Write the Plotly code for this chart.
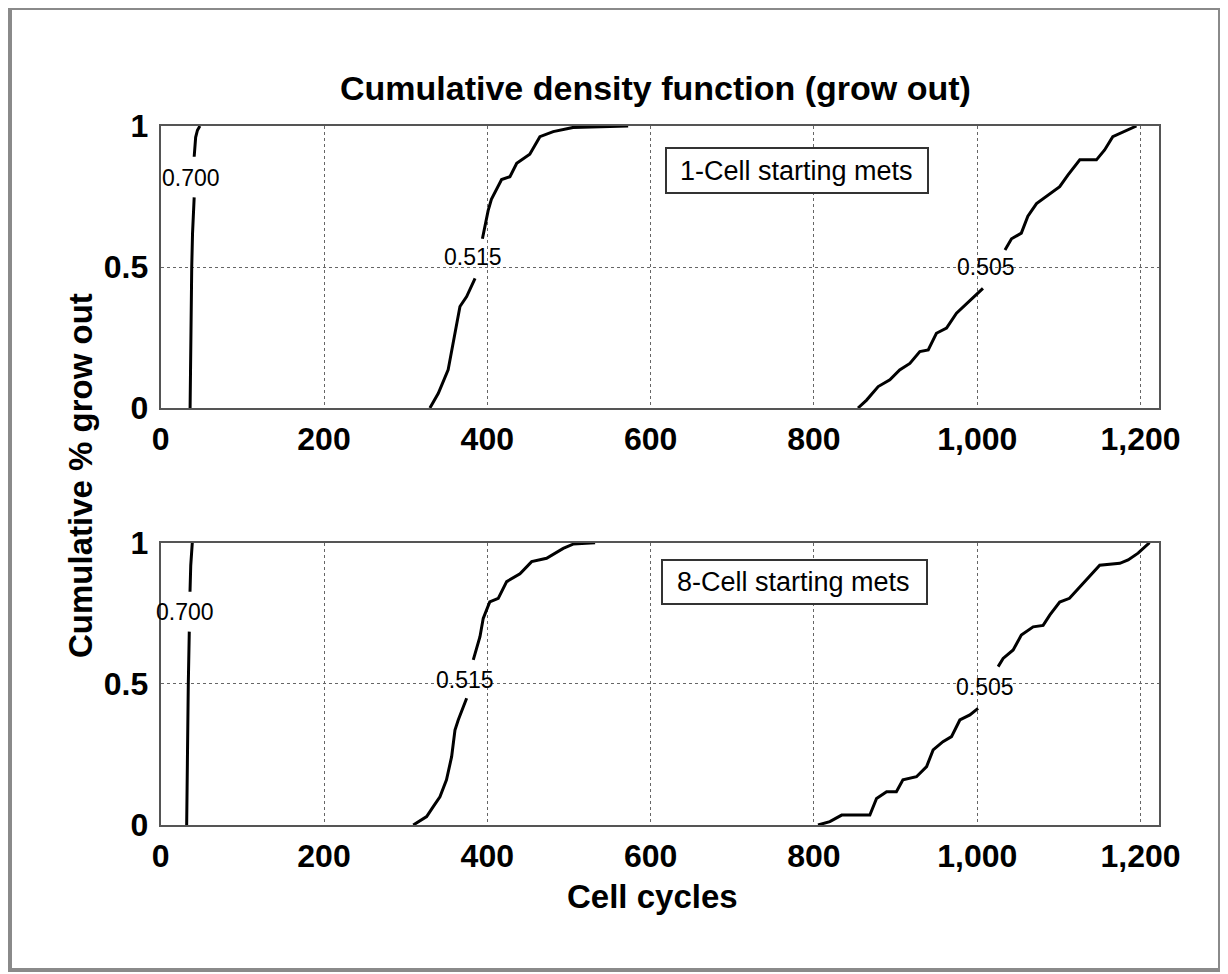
import plotly.graph_objects as go

# ---------------- data ----------------
# Top panel: 1-Cell starting mets; each curve split where its contour label sits
top_a_lo_x = [36, 36.5, 37.5, 38, 39, 41]
top_a_lo_y = [0.0, 0.2, 0.4, 0.5, 0.62, 0.747]
top_a_hi_x = [41, 41.5, 42.8, 45, 48]
top_a_hi_y = [0.891, 0.93, 0.96, 0.985, 1.0]

top_b_lo_x = [329.7, 340, 352, 358, 362, 366.5, 374.7, 385]
top_b_lo_y = [0.0, 0.052, 0.135, 0.23, 0.29, 0.36, 0.395, 0.46]
top_b_hi_x = [394, 401, 405, 417.5, 427.7, 436, 452, 464.4, 480.7, 505, 572.5]
top_b_hi_y = [0.60, 0.70, 0.74, 0.81, 0.82, 0.868, 0.90, 0.962, 0.98, 0.995, 1.0]

top_c_lo_x = [854, 864.5, 878.7, 893, 905, 917.5, 929.7, 940, 950, 962.4, 974.6, 987, 997, 1007]
top_c_lo_y = [0.0, 0.028, 0.076, 0.10, 0.135, 0.158, 0.20, 0.206, 0.265, 0.283, 0.336, 0.37, 0.395, 0.424]
top_c_hi_x = [1034, 1042, 1054, 1062, 1072.6, 1089, 1101, 1111, 1125.6, 1146, 1156, 1166, 1183, 1195]
top_c_hi_y = [0.56, 0.60, 0.62, 0.68, 0.725, 0.76, 0.785, 0.826, 0.88, 0.88, 0.915, 0.962, 0.986, 1.0]

# Bottom panel: 8-Cell starting mets
bot_a_lo_x = [31.8, 32.5, 33.8, 35]
bot_a_lo_y = [0.0, 0.25, 0.5, 0.685]
bot_a_hi_x = [35.9, 36.8, 38.7]
bot_a_hi_y = [0.826, 0.92, 1.0]

bot_b_lo_x = [309.3, 325.7, 333.8, 342, 350, 356.3, 360.4, 364.4, 374.7]
bot_b_lo_y = [0.0, 0.03, 0.065, 0.10, 0.16, 0.242, 0.336, 0.372, 0.449]
bot_b_hi_x = [382.8, 391, 395, 403, 413.4, 423.7, 440, 454.3, 472.6, 493, 505, 532]
bot_b_hi_y = [0.585, 0.667, 0.732, 0.79, 0.803, 0.862, 0.89, 0.933, 0.945, 0.98, 0.995, 1.0]

bot_c_lo_x = [805, 819.5, 834, 868.5, 876.7, 889, 901, 909, 925.6, 938, 946, 958, 968.5, 978.7, 991, 1001]
bot_c_lo_y = [0.0, 0.012, 0.035, 0.035, 0.094, 0.118, 0.118, 0.16, 0.171, 0.207, 0.266, 0.295, 0.313, 0.372, 0.39, 0.413]
bot_c_hi_x = [1025.6, 1031.7, 1044, 1054, 1068.5, 1080.7, 1089, 1101, 1113, 1125.6, 1140, 1150, 1174.6, 1184.8, 1197, 1207, 1211]
bot_c_hi_y = [0.561, 0.59, 0.62, 0.673, 0.702, 0.707, 0.744, 0.79, 0.803, 0.844, 0.89, 0.92, 0.927, 0.939, 0.963, 0.992, 1.0]

curve_labels = ["0.700", "0.515", "0.505"]
top_label_x = [36.7, 383, 1011]
top_label_y = [0.814, 0.537, 0.50]
bot_label_x = [29.7, 372.6, 1009]
bot_label_y = [0.755, 0.513, 0.49]

x_tickvals = [0, 200, 400, 600, 800, 1000, 1200]
x_ticktext = ["0", "200", "400", "600", "800", "1,000", "1,200"]
y_tickvals = [0, 0.5, 1]
y_ticktext = ["0", "0.5", "1"]

title_text = "Cumulative density function (grow out)"
x_title = "Cell cycles"
y_title = "Cumulative % grow out"
panel_texts = ["1-Cell starting mets", "8-Cell starting mets"]

# ---------------- figure ----------------
W, H = 1228, 974
OFF = 8  # page body margin offset
FONT = "Liberation Sans, Arial, Helvetica, sans-serif"

def px(x):
    return (x - OFF) / W

def py(y):
    return 1 - (y - OFF) / H

fig = go.Figure()
line = dict(color="black", width=3)

top_segments = [(top_a_lo_x, top_a_lo_y), (top_a_hi_x, top_a_hi_y),
                (top_b_lo_x, top_b_lo_y), (top_b_hi_x, top_b_hi_y),
                (top_c_lo_x, top_c_lo_y), (top_c_hi_x, top_c_hi_y)]
bot_segments = [(bot_a_lo_x, bot_a_lo_y), (bot_a_hi_x, bot_a_hi_y),
                (bot_b_lo_x, bot_b_lo_y), (bot_b_hi_x, bot_b_hi_y),
                (bot_c_lo_x, bot_c_lo_y), (bot_c_hi_x, bot_c_hi_y)]

for xs, ys in top_segments:
    fig.add_trace(go.Scatter(x=xs, y=ys, mode="lines", line=line,
                             xaxis="x", yaxis="y", showlegend=False, hoverinfo="skip"))
for xs, ys in bot_segments:
    fig.add_trace(go.Scatter(x=xs, y=ys, mode="lines", line=line,
                             xaxis="x2", yaxis="y2", showlegend=False, hoverinfo="skip"))

xdom = [px(160.7), px(1158.5)]
axis_common = dict(
    showline=True, linecolor="#555555", linewidth=2, mirror=True,
    showgrid=True, gridcolor="#666666", gridwidth=1.2, griddash="dot",
    zeroline=False, ticks="", automargin=False,
    tickfont=dict(family=FONT, size=32, color="black", weight="bold"),
)

fig.update_layout(
    width=W, height=H,
    margin=dict(l=0, r=0, t=0, b=0, pad=0, autoexpand=False),
    paper_bgcolor="white", plot_bgcolor="white",
    showlegend=False,
    xaxis=dict(domain=xdom, anchor="y", range=[0, 1222], tickvals=x_tickvals,
               ticktext=x_ticktext, ticklabelstandoff=2, **axis_common),
    yaxis=dict(domain=[py(408), py(126)], anchor="x", range=[0, 1], tickvals=y_tickvals,
               ticktext=y_ticktext, ticklabelstandoff=4, **axis_common),
    xaxis2=dict(domain=xdom, anchor="y2", range=[0, 1222], tickvals=x_tickvals,
                ticktext=x_ticktext, ticklabelstandoff=2, **axis_common),
    yaxis2=dict(domain=[py(825), py(542.7)], anchor="x2", range=[0, 1], tickvals=y_tickvals,
                ticktext=y_ticktext, ticklabelstandoff=4, **axis_common),
)

annotations = []
# curve value labels
for t, xv, yv in zip(curve_labels, top_label_x, top_label_y):
    annotations.append(dict(x=xv, y=yv, xref="x", yref="y", text=t, showarrow=False,
                            xanchor="center", yanchor="middle",
                            font=dict(family=FONT, size=23, color="black")))
for t, xv, yv in zip(curve_labels, bot_label_x, bot_label_y):
    annotations.append(dict(x=xv, y=yv, xref="x2", yref="y2", text=t, showarrow=False,
                            xanchor="center", yanchor="middle",
                            font=dict(family=FONT, size=23, color="black")))
# panel texts
annotations.append(dict(x=px(797), y=py(170.5), xref="paper", yref="paper", text=panel_texts[0],
                        xanchor="center", yanchor="middle",
                        showarrow=False, font=dict(family=FONT, size=27, color="black")))
annotations.append(dict(x=px(794), y=py(582), xref="paper", yref="paper", text=panel_texts[1],
                        xanchor="center", yanchor="middle",
                        showarrow=False, font=dict(family=FONT, size=27, color="black")))
# titles
annotations.append(dict(x=px(655), y=py(88), xref="paper", yref="paper", text="<b>%s</b>" % title_text,
                        xanchor="center", yanchor="middle",
                        showarrow=False, font=dict(family=FONT, size=34, color="black")))
annotations.append(dict(x=px(652), y=py(896), xref="paper", yref="paper", text="<b>%s</b>" % x_title,
                        xanchor="center", yanchor="middle",
                        showarrow=False, font=dict(family=FONT, size=33, color="black")))
annotations.append(dict(x=px(80), y=py(476), xref="paper", yref="paper", text="<b>%s</b>" % y_title,
                        xanchor="center", yanchor="middle",
                        textangle=-90, showarrow=False, font=dict(family=FONT, size=33, color="black")))
fig.update_layout(annotations=annotations)

shapes = [
    dict(type="rect", xref="paper", yref="paper", x0=px(10), x1=px(1220), y0=py(970), y1=py(8),
         line=dict(color="#8a8a8a", width=4), fillcolor="rgba(0,0,0,0)", layer="below"),
    dict(type="rect", xref="paper", yref="paper", x0=px(666), x1=px(928), y0=py(193), y1=py(148),
         line=dict(color="#333333", width=2), fillcolor="white"),
    dict(type="rect", xref="paper", yref="paper", x0=px(662), x1=px(927), y0=py(604), y1=py(560),
         line=dict(color="#333333", width=2), fillcolor="white"),
]
fig.update_layout(shapes=shapes)

fig.write_html("out.html")
